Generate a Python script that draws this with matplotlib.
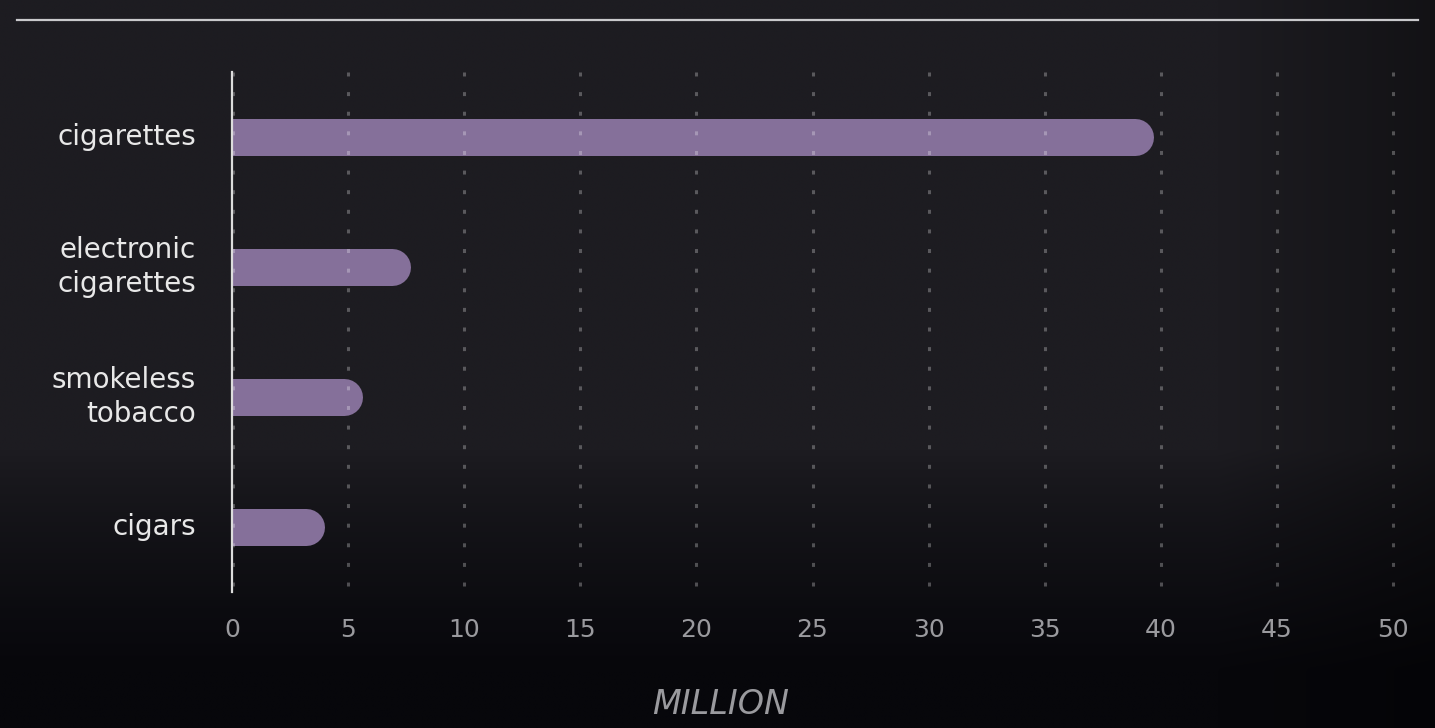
import numpy as np
import matplotlib
matplotlib.use("Agg")
import matplotlib.pyplot as plt
from matplotlib.lines import Line2D

categories = ["cigarettes", "electronic\ncigarettes", "smokeless\ntobacco", "cigars"]
values = [39.7, 7.7, 5.6, 4.0]
xticks = [0, 5, 10, 15, 20, 25, 30, 35, 40, 45, 50]
xlabel = "MILLION"

W, H, DPI = 1435, 728, 100
fig = plt.figure(figsize=(W / DPI, H / DPI), dpi=DPI)

# background gradient
bg = fig.add_axes([0, 0, 1, 1], zorder=-10)
yy, xx = np.mgrid[0:1:200j, 0:1:400j]
top = np.array([0x1d, 0x1c, 0x21]) / 255
bot = np.array([0x07, 0x07, 0x0b]) / 255
t = np.clip((yy - 0.62) / 0.3, 0, 1) ** 0.8
img = top[None, None, :] * (1 - t[..., None]) + bot[None, None, :] * t[..., None]
dr = np.clip((xx - 0.85) / 0.15, 0, 1)[..., None] * 0.35
img = img * (1 - dr)
bg.imshow(img, aspect="auto", extent=[0, 1, 1, 0], interpolation="bilinear")
bg.set_xlim(0, 1); bg.set_ylim(1, 0)
bg.axis("off")

# top rule
fig.add_artist(Line2D([17 / W, 1418 / W], [1 - 20 / H, 1 - 20 / H], color="#c9c9cc", lw=1.6))

left, right, topy, boty = 232, 1393, 72, 592
ax = fig.add_axes([left / W, 1 - boty / H, (right - left) / W, (boty - topy) / H])
ax.set_facecolor("none")
ax.set_xlim(0, 50)
ax.set_ylim(3.5, -0.5)

ylo, yhi = -0.5, 3.5
for xt in xticks:
    xx_ = xt + (0.04 if xt == 0 else 0)
    ax.plot([xx_, xx_], [ylo, yhi], color="white", alpha=0.27, lw=2.2,
            dashes=(1.3, 5.12), zorder=3, clip_on=False)

bar_px = 37
lw_pt = bar_px * 72 / DPI
px_per_unit = (right - left) / 50
r_units = (bar_px / 2) / px_per_unit
for i, v in enumerate(values):
    ax.plot([-5, v - r_units], [i, i], color="#85709a", lw=lw_pt,
            solid_capstyle="round", zorder=2, clip_on=True)

for s in ["top", "right", "bottom"]:
    ax.spines[s].set_visible(False)
ax.spines["left"].set_color("#dcdcdc")
ax.spines["left"].set_linewidth(1.6)
ax.spines["left"].set_zorder(4)

ax.set_yticks(range(len(categories)))
ax.set_yticklabels(categories, fontsize=20, color="#e8e8e8", family="DejaVu Sans",
                   linespacing=1.25)
for lbl in ax.get_yticklabels():
    lbl.set_verticalalignment("center")
ax.tick_params(axis="y", length=0, pad=26)
ax.set_xticks(xticks)
ax.set_xticklabels([str(x) for x in xticks], fontsize=18, color="#9a9a9e",
                   family="DejaVu Sans")
ax.tick_params(axis="x", length=0, pad=19)

fig.text(721 / W, 1 - 705 / H, xlabel, ha="center", va="center", fontsize=24,
         color="#9a9a9e", style="italic", family="DejaVu Sans")

fig.savefig("out.png", dpi=DPI)
